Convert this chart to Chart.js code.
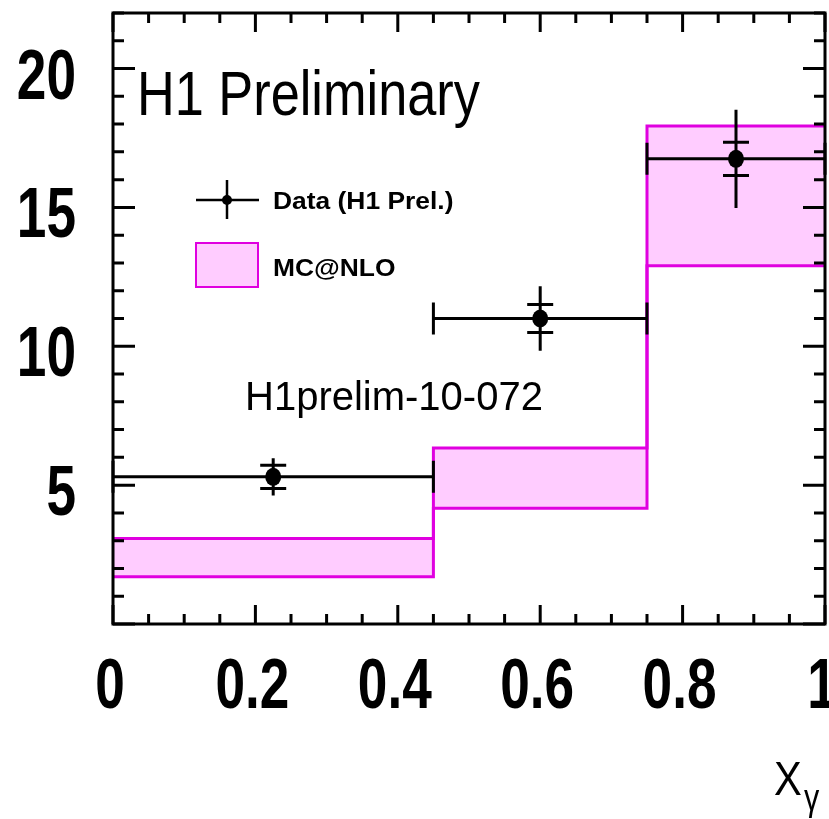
<!DOCTYPE html>
<html>
<head>
<meta charset="utf-8">
<script src="https://cdn.jsdelivr.net/npm/chart.js@4.4.0/dist/chart.umd.min.js"></script>
<style>
html,body{margin:0;padding:0;background:#fff;}
#wrap{width:829px;height:819px;position:relative;}
</style>
</head>
<body>
<div id="wrap"><canvas id="c" width="829" height="819"></canvas></div>
<script>
// ---- data ----
const binLow    = [0.0, 0.45, 0.75];
const binHigh   = [0.45, 0.75, 1.0];
const dataX     = [0.225, 0.6, 0.875];
const dataY     = [5.3, 11.0, 16.75];
const statErr   = [0.42, 0.5, 0.6];
const totErr    = [0.67, 1.16, 1.77];
const mcEdges   = [0.0, 0.45, 0.75, 1.0];
const mcUpper   = [3.08, 6.34, 17.93, 17.93];
const mcLower   = [1.70, 4.17, 12.9, 12.9];
const xTickValues = [0, 0.2, 0.4, 0.6, 0.8, 1];
const xTickLabels = ['0', '0.2', '0.4', '0.6', '0.8', '1'];
const yTickValues = [5, 10, 15, 20];
const yTickLabels = ['5', '10', '15', '20'];
const xMinorStep = 0.05;
const yMinorStep = 1;

const MAG = '#e000e0';
const PINK = '#ffccff';
const SANS = '"Liberation Sans", Arial, Helvetica, sans-serif';

function condensedText(ctx, text, x, y, sx, align) {
  ctx.save();
  ctx.translate(x, y);
  ctx.scale(sx, 1);
  ctx.textAlign = align || 'left';
  ctx.fillText(text, 0, 0);
  ctx.restore();
}

const decorPlugin = {
  id: 'decor',
  afterDatasetsDraw(chart) {
    const ctx = chart.ctx;
    const xs = chart.scales.x, ys = chart.scales.y;
    const a = chart.chartArea;
    ctx.save();
    // error bars
    ctx.strokeStyle = '#000';
    ctx.fillStyle = '#000';
    ctx.lineWidth = 3;
    for (let i = 0; i < dataX.length; i++) {
      const px = xs.getPixelForValue(dataX[i]);
      const py = ys.getPixelForValue(dataY[i]);
      const xl = xs.getPixelForValue(binLow[i]);
      const xh = xs.getPixelForValue(binHigh[i]);
      ctx.beginPath();
      ctx.moveTo(xl, py); ctx.lineTo(xh, py);
      ctx.moveTo(xl, py - 16); ctx.lineTo(xl, py + 16);
      ctx.moveTo(xh, py - 16); ctx.lineTo(xh, py + 16);
      const yt1 = ys.getPixelForValue(dataY[i] + totErr[i]);
      const yt2 = ys.getPixelForValue(dataY[i] - totErr[i]);
      ctx.moveTo(px, yt1); ctx.lineTo(px, yt2);
      const ys1 = ys.getPixelForValue(dataY[i] + statErr[i]);
      const ys2 = ys.getPixelForValue(dataY[i] - statErr[i]);
      ctx.moveTo(px - 13, ys1); ctx.lineTo(px + 13, ys1);
      ctx.moveTo(px - 13, ys2); ctx.lineTo(px + 13, ys2);
      ctx.stroke();
      ctx.beginPath();
      ctx.ellipse(px, py, 8, 9, 0, 0, Math.PI * 2);
      ctx.fill();
    }
    // frame
    ctx.lineWidth = 3;
    ctx.strokeRect(a.left, a.top, a.right - a.left, a.bottom - a.top);
    // ticks
    ctx.beginPath();
    for (let k = 0; k <= 20; k++) {
      const v = k * xMinorStep;
      const p = xs.getPixelForValue(v);
      const major = xTickValues.some(t => Math.abs(t - v) < 1e-6);
      const len = major ? 19 : 10;
      ctx.moveTo(p, a.bottom); ctx.lineTo(p, a.bottom - len);
      ctx.moveTo(p, a.top); ctx.lineTo(p, a.top + len);
    }
    for (let k = 0; k <= 22; k++) {
      const v = k * yMinorStep;
      const p = ys.getPixelForValue(v);
      const major = (k % 5 === 0);
      const len = major ? 22 : 11;
      ctx.moveTo(a.left, p); ctx.lineTo(a.left + len, p);
      ctx.moveTo(a.right, p); ctx.lineTo(a.right - len, p);
    }
    ctx.stroke();
    // tick labels
    ctx.fillStyle = '#000';
    ctx.textBaseline = 'alphabetic';
    ctx.font = 'bold 70px ' + SANS;
    xTickValues.forEach((v, i) => {
      const p = xs.getPixelForValue(v);
      condensedText(ctx, xTickLabels[i], p - 3, a.bottom + 84, 0.76, 'center');
    });
    yTickValues.forEach((v, i) => {
      const p = ys.getPixelForValue(v);
      condensedText(ctx, yTickLabels[i], 76, p + 30, 0.76, 'right');
    });
    // texts
    ctx.font = '63px ' + SANS;
    condensedText(ctx, 'H1 Preliminary', 137, 115, 0.83, 'left');
    ctx.font = '40px ' + SANS;
    ctx.textAlign = 'left';
    ctx.fillText('H1prelim-10-072', 245, 410);
    // legend
    ctx.lineWidth = 2.5;
    ctx.beginPath();
    ctx.moveTo(196, 200); ctx.lineTo(259, 200);
    ctx.moveTo(227, 180); ctx.lineTo(227, 219);
    ctx.stroke();
    ctx.beginPath(); ctx.arc(227, 200, 5, 0, Math.PI * 2); ctx.fill();
    ctx.font = 'bold 24px ' + SANS;
    condensedText(ctx, 'Data (H1 Prel.)', 273, 209, 1.1, 'left');
    ctx.fillStyle = PINK;
    ctx.fillRect(196, 243, 62, 44);
    ctx.strokeStyle = MAG; ctx.lineWidth = 2;
    ctx.strokeRect(196, 243, 62, 44);
    ctx.fillStyle = '#000';
    condensedText(ctx, 'MC@NLO', 273, 276, 1.1, 'left');
    // axis title
    ctx.font = '49px ' + SANS;
    condensedText(ctx, 'X', 774, 795, 0.85, 'left');
    ctx.font = '36px ' + SANS;
    condensedText(ctx, '\u03b3', 804, 810, 0.85, 'left');
    ctx.restore();
  }
};

new Chart(document.getElementById('c'), {
  type: 'line',
  data: {
    datasets: [
      {
        label: 'MC@NLO upper',
        data: mcEdges.map((x, i) => ({x: x, y: mcUpper[i]})),
        stepped: 'before',
        borderColor: MAG,
        borderWidth: 3,
        backgroundColor: PINK,
        pointRadius: 0,
        fill: false
      },
      {
        label: 'MC@NLO lower',
        data: mcEdges.map((x, i) => ({x: x, y: mcLower[i]})),
        stepped: 'before',
        borderColor: MAG,
        borderWidth: 3,
        backgroundColor: PINK,
        pointRadius: 0,
        fill: '-1'
      }
    ]
  },
  options: {
    responsive: false,
    animation: false,
    layout: {padding: {top: 13, right: 4, left: 0, bottom: 0}},
    plugins: {legend: {display: false}, tooltip: {enabled: false}},
    scales: {
      x: {
        type: 'linear', min: 0, max: 1,
        grid: {display: false, drawTicks: false},
        border: {display: false},
        ticks: {display: false},
        afterFit: s => { s.height = 195; }
      },
      y: {
        type: 'linear', min: 0, max: 22,
        grid: {display: false, drawTicks: false},
        border: {display: false},
        ticks: {display: false},
        afterFit: s => { s.width = 113; }
      }
    }
  },
  plugins: [decorPlugin]
});
</script>
</body>
</html>
